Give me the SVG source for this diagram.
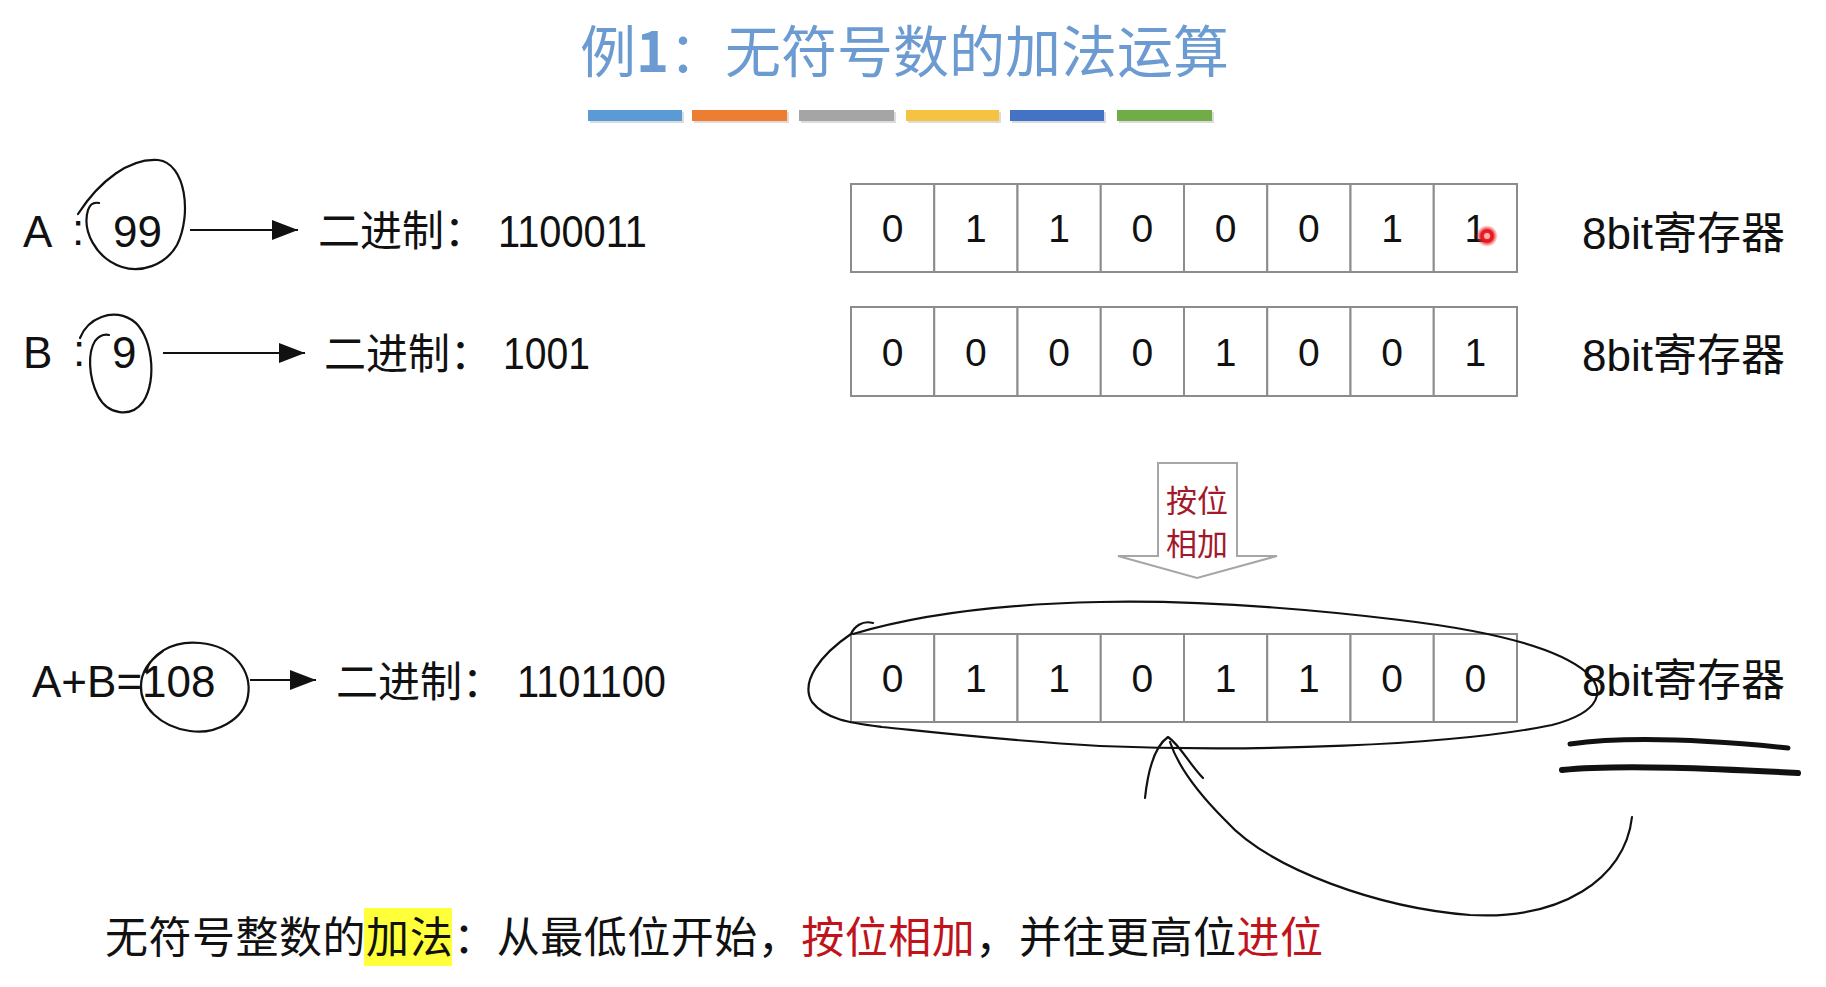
<svg xmlns="http://www.w3.org/2000/svg" width="1826" height="987" viewBox="0 0 1826 987">
<style>
.cjk{font-family:"Noto Sans CJK SC","Noto Sans CJK JP",sans-serif;}
.lat{font-family:"Liberation Sans","Noto Sans CJK SC",sans-serif;}
.cell{fill:#fff;stroke:#8c8c8c;stroke-width:2;}
.dig{font-family:"Liberation Sans",sans-serif;font-size:39px;text-anchor:middle;fill:#111;}
.reg{font-family:"Liberation Sans","Noto Sans CJK SC",sans-serif;font-size:44px;fill:#111;}
.lbl{font-family:"Liberation Sans","Noto Sans CJK SC",sans-serif;font-size:44px;fill:#111;}
.bin{font-family:"Noto Sans CJK SC",sans-serif;font-size:42px;fill:#111;}
.num{font-family:"Liberation Sans",sans-serif;font-size:44px;fill:#111;}
.ink{fill:none;stroke:#111;stroke-width:2.2;stroke-linecap:round;stroke-linejoin:round;}
.conn{stroke:#111;stroke-width:2;fill:none;}
</style>
<defs>
<marker id="ah" markerWidth="26" markerHeight="20" refX="26" refY="10" orient="auto" markerUnits="userSpaceOnUse">
<path d="M0,0 L26,10 L0,20 Z" fill="#111"/>
</marker>
<radialGradient id="laser">
<stop offset="0" stop-color="#ff3b3b"/>
<stop offset="0.55" stop-color="#e0141c"/>
<stop offset="1" stop-color="#ff5050" stop-opacity="0"/>
</radialGradient>
</defs>
<rect width="1826" height="987" fill="#fff"/>

<g id="title">
<text class="cjk" x="580" y="72" font-size="56" fill="#6c9bd2">例<tspan font-weight="bold">1</tspan>：无符号数的加法运算</text>
<g opacity="0.25" fill="#777">
<rect x="590" y="112" width="94" height="11"/><rect x="694" y="112" width="95" height="11"/><rect x="801" y="112" width="95" height="11"/><rect x="908" y="112" width="93" height="11"/><rect x="1012" y="112" width="94" height="11"/><rect x="1119" y="112" width="95" height="11"/>
</g>
<rect x="588" y="110" width="94" height="11" fill="#5b9bd5"/>
<rect x="692" y="110" width="95" height="11" fill="#ed7d31"/>
<rect x="799" y="110" width="95" height="11" fill="#a5a5a5"/>
<rect x="906" y="110" width="93" height="11" fill="#f5c242"/>
<rect x="1010" y="110" width="94" height="11" fill="#4472c4"/>
<rect x="1117" y="110" width="95" height="11" fill="#70ad47"/>
</g>

<g id="rowA">
<text class="lbl" x="23" y="247">A</text>
<text class="lbl" x="72" y="245">:</text>
<text class="num" x="113" y="247">99</text>
<path class="ink" d="M78 214 C100 180,130 158,158 160 C186 163,192 215,177 245 C165 266,140 273,122 267 C95 258,82 230,88 210 C90 204,94 202,99 203"/>
<text class="bin" x="318" y="246">二进制：</text>
<text class="num" x="498" y="247" textLength="149" lengthAdjust="spacingAndGlyphs">1100011</text>
</g>

<g id="rowB">
<text class="lbl" x="23" y="368">B</text>
<text class="lbl" x="73" y="366">:</text>
<text class="num" x="112" y="368">9</text>
<path class="ink" d="M80 338 C88 318,112 308,132 320 C152 333,158 380,143 402 C131 418,108 415,98 396 C88 376,88 352,95 341 C99 336,104 334,109 335"/>
<text class="bin" x="324" y="369">二进制：</text>
<text class="num" x="503" y="369" textLength="87" lengthAdjust="spacingAndGlyphs">1001</text>
</g>

<g id="rowSum">
<text class="lbl" x="32" y="697">A+B=108</text>
<path class="ink" d="M146 672 C150 656,170 640,200 643 C235 646,252 672,248 696 C244 720,215 735,190 731 C160 727,140 706,141 686 C141 675,147 662,163 651"/>
<text class="bin" x="336" y="697">二进制：</text>
<text class="num" x="517" y="697" textLength="149" lengthAdjust="spacingAndGlyphs">1101100</text>
</g>

<g id="connectors">
<line class="conn" x1="190" y1="230" x2="298" y2="230" marker-end="url(#ah)"/>
<line class="conn" x1="163" y1="353" x2="305" y2="353" marker-end="url(#ah)"/>
<line class="conn" x1="250" y1="680" x2="316" y2="680" marker-end="url(#ah)"/>
</g>

<g id="regA">
<rect class="cell" x="851" y="184" width="83.25" height="88"/><rect class="cell" x="934.25" y="184" width="83.25" height="88"/><rect class="cell" x="1017.5" y="184" width="83.25" height="88"/><rect class="cell" x="1100.75" y="184" width="83.25" height="88"/><rect class="cell" x="1184" y="184" width="83.25" height="88"/><rect class="cell" x="1267.25" y="184" width="83.25" height="88"/><rect class="cell" x="1350.5" y="184" width="83.25" height="88"/><rect class="cell" x="1433.75" y="184" width="83.25" height="88"/>
<text class="dig" x="892.6" y="242">0</text><text class="dig" x="975.9" y="242">1</text><text class="dig" x="1059.1" y="242">1</text><text class="dig" x="1142.4" y="242">0</text><text class="dig" x="1225.6" y="242">0</text><text class="dig" x="1308.9" y="242">0</text><text class="dig" x="1392.1" y="242">1</text><text class="dig" x="1475.4" y="242">1</text>
<circle cx="1487" cy="236" r="11" fill="url(#laser)"/>
<circle cx="1487" cy="236" r="3" fill="#ffb0b0"/>
<text class="reg" x="1582" y="249">8bit寄存器</text>
</g>

<g id="regB">
<rect class="cell" x="851" y="307" width="83.25" height="89"/><rect class="cell" x="934.25" y="307" width="83.25" height="89"/><rect class="cell" x="1017.5" y="307" width="83.25" height="89"/><rect class="cell" x="1100.75" y="307" width="83.25" height="89"/><rect class="cell" x="1184" y="307" width="83.25" height="89"/><rect class="cell" x="1267.25" y="307" width="83.25" height="89"/><rect class="cell" x="1350.5" y="307" width="83.25" height="89"/><rect class="cell" x="1433.75" y="307" width="83.25" height="89"/>
<text class="dig" x="892.6" y="366">0</text><text class="dig" x="975.9" y="366">0</text><text class="dig" x="1059.1" y="366">0</text><text class="dig" x="1142.4" y="366">0</text><text class="dig" x="1225.6" y="366">1</text><text class="dig" x="1308.9" y="366">0</text><text class="dig" x="1392.1" y="366">0</text><text class="dig" x="1475.4" y="366">1</text>
<text class="reg" x="1582" y="371">8bit寄存器</text>
</g>

<g id="addArrow">
<path d="M1158 463 L1237 463 L1237 556 L1277 556 L1197 578 L1118 556 L1158 556 Z" fill="#fff" stroke="#a6a6a6" stroke-width="2"/>
<text class="cjk" x="1197" y="512" font-size="31" fill="#a3192b" text-anchor="middle">按位</text>
<text class="cjk" x="1197" y="555" font-size="31" fill="#a3192b" text-anchor="middle">相加</text>
</g>

<g id="regSum">
<rect class="cell" x="851" y="634" width="83.25" height="88"/><rect class="cell" x="934.25" y="634" width="83.25" height="88"/><rect class="cell" x="1017.5" y="634" width="83.25" height="88"/><rect class="cell" x="1100.75" y="634" width="83.25" height="88"/><rect class="cell" x="1184" y="634" width="83.25" height="88"/><rect class="cell" x="1267.25" y="634" width="83.25" height="88"/><rect class="cell" x="1350.5" y="634" width="83.25" height="88"/><rect class="cell" x="1433.75" y="634" width="83.25" height="88"/>
<text class="dig" x="892.6" y="692">0</text><text class="dig" x="975.9" y="692">1</text><text class="dig" x="1059.1" y="692">1</text><text class="dig" x="1142.4" y="692">0</text><text class="dig" x="1225.6" y="692">1</text><text class="dig" x="1308.9" y="692">1</text><text class="dig" x="1392.1" y="692">0</text><text class="dig" x="1475.4" y="692">0</text>
<text class="reg" x="1582" y="696">8bit寄存器</text>
</g>

<g id="annotations">
<path class="ink" d="M873 623 C862 620,854 627,851 634 C820 655,800 682,812 702 C826 720,852 723,882 727 C950 734,1010 741,1100 746 C1250 752,1450 746,1552 725 C1602 712,1606 690,1586 672 C1560 650,1500 632,1400 620 C1300 608,1200 600,1100 602 C1000 604,920 614,853 634"/>
<path d="M1570 744 C1620 737,1700 739,1788 748" fill="none" stroke="#111" stroke-width="5" stroke-linecap="round"/>
<path d="M1562 770 C1620 764,1720 769,1798 773" fill="none" stroke="#111" stroke-width="6" stroke-linecap="round"/>
<path class="ink" d="M1632 817 C1625 880,1560 920,1470 915 C1380 908,1270 870,1225 820 C1190 785,1176 760,1170 742"/>
<path class="ink" d="M1145 798 C1148 770,1155 746,1168 737 C1180 745,1190 765,1203 778"/>
</g>

<g id="summary">
<rect x="364" y="908" width="88" height="58" fill="#ffff3a"/>
<text class="cjk" x="105" y="953" font-size="43" fill="#111" textLength="1218" lengthAdjust="spacing">无符号整数的加法：从最低位开始，<tspan fill="#c0141c">按位相加</tspan>，并往更高位<tspan fill="#c0141c">进位</tspan></text>
</g>
</svg>
